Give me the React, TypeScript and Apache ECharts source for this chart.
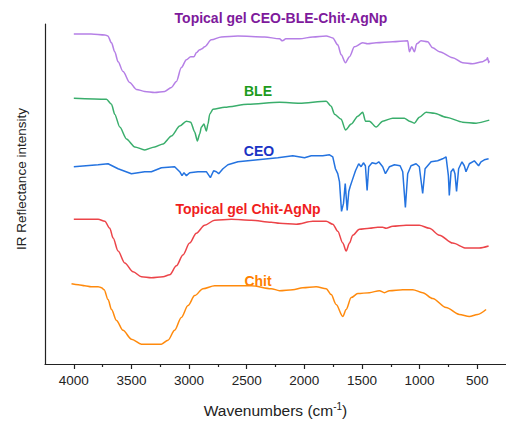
import React, { useEffect, useRef } from "react";
import * as echarts from "echarts";

// Wavenumber (cm-1) / offset IR reflectance intensity pairs
const gelCeoBleChitAgNp: number[][] = [
  [4000, 333], [3850, 333], [3730, 332], [3705, 331], [3673, 324], [3645, 315], [3616, 305],
  [3573, 295], [3515, 284], [3457, 277], [3385, 275], [3298, 274], [3211, 275],
  [3153, 279], [3110, 285], [3067, 299], [3023, 307], [2986, 310], [2957, 310],
  [2937, 314], [2908, 317], [2888, 318], [2865, 320], [2807, 327], [2720, 330],
  [2576, 331], [2345, 330], [2215, 328], [2190, 326], [2160, 328], [2041, 328], [1926, 330], [1810, 331],
  [1753, 329], [1710, 322], [1680, 312], [1643, 304], [1608, 310], [1565, 320],
  [1493, 324], [1450, 323], [1377, 324], [1233, 325], [1103, 326], [1088, 315],
  [1068, 320], [1045, 315], [1025, 323], [987, 326], [930, 325], [886, 319],
  [828, 315], [713, 309], [626, 304], [540, 303], [453, 305], [420, 307], [410, 309], [400, 304], [395, 306],
];

const ble: number[][] = [
  [4000, 268], [3717, 267], [3673, 262], [3645, 252], [3601, 239], [3543, 227],
  [3471, 219], [3385, 216], [3298, 219], [3226, 222], [3153, 230], [3081, 240],
  [3023, 245], [2986, 244], [2951, 234], [2928, 225], [2908, 232], [2893, 239],
  [2871, 242], [2850, 235], [2836, 242], [2821, 252], [2793, 257], [2691, 259],
  [2489, 262], [2215, 264], [2041, 263], [1810, 265], [1767, 260], [1738, 252],
  [1680, 247], [1643, 236], [1593, 242], [1536, 250], [1493, 254], [1470, 245],
  [1435, 245], [1377, 239], [1320, 245], [1233, 248], [1132, 248], [1088, 245],
  [1045, 243], [1002, 249], [943, 254], [871, 253], [770, 249], [626, 244],
  [510, 243], [395, 246],
];

const ceo: number[][] = [
  [4000, 199], [3789, 201], [3703, 202], [3616, 197], [3500, 192], [3385, 194],
  [3327, 194], [3240, 198], [3125, 199], [3081, 194], [3061, 190], [3044, 193],
  [3023, 190], [2995, 193], [2923, 194], [2850, 194], [2815, 188], [2787, 195],
  [2763, 194], [2743, 192], [2706, 197], [2663, 201], [2576, 204], [2403, 206],
  [2230, 208], [2100, 210], [1998, 208], [1940, 210], [1840, 210], [1781, 211],
  [1753, 209], [1730, 197], [1710, 192], [1695, 184], [1677, 154], [1660, 162],
  [1645, 182], [1628, 155], [1614, 174], [1602, 179], [1585, 185], [1556, 195],
  [1528, 202], [1507, 199], [1487, 203], [1470, 200], [1455, 175], [1441, 199],
  [1412, 203], [1377, 202], [1354, 204], [1320, 199], [1296, 192], [1261, 199],
  [1218, 201], [1169, 200], [1146, 194], [1123, 158], [1103, 192], [1074, 200],
  [1030, 202], [1002, 199], [973, 172], [952, 197], [900, 204], [843, 205],
  [800, 207], [770, 209], [750, 190], [742, 170], [727, 194], [707, 197],
  [693, 192], [679, 174], [661, 197], [632, 204], [612, 200], [597, 194],
  [568, 202], [525, 205], [488, 200], [467, 204], [438, 206], [401, 207],
];

const gelChitAgNp: number[][] = [
  [4000, 146], [3789, 146], [3731, 144], [3688, 137], [3659, 127], [3616, 114],
  [3558, 102], [3486, 93], [3413, 88], [3327, 87], [3226, 88], [3168, 90],
  [3110, 99], [3053, 110], [2995, 122], [2937, 132], [2865, 140], [2778, 145],
  [2633, 146], [2460, 145], [2287, 143], [2215, 142], [2070, 141], [1926, 144],
  [1810, 144], [1753, 141], [1710, 134], [1666, 122], [1637, 114], [1608, 122],
  [1580, 130], [1522, 136], [1435, 137], [1363, 138], [1320, 138], [1291, 137],
  [1233, 139], [1117, 140], [1002, 140], [915, 137], [828, 130], [713, 122],
  [597, 117], [482, 117], [401, 119],
];

const chit: number[][] = [
  [4020, 81], [3960, 80], [3905, 79], [3850, 78], [3789, 78], [3760, 77], [3737, 75], [3703, 65],
  [3673, 55], [3630, 44], [3573, 34], [3500, 25], [3413, 20], [3327, 20],
  [3240, 20], [3183, 24], [3125, 34], [3067, 47], [3009, 59], [2951, 69],
  [2879, 76], [2778, 79], [2633, 79], [2460, 79], [2287, 76], [2215, 74],
  [2100, 75], [2013, 77], [1897, 78], [1810, 76], [1767, 70], [1724, 60],
  [1666, 48], [1637, 55], [1593, 67], [1536, 71], [1435, 72], [1348, 74],
  [1305, 72], [1261, 74], [1146, 75], [1059, 75], [973, 72], [886, 66],
  [770, 57], [655, 50], [568, 48], [496, 50], [423, 55],
];

const majorTicks = [500, 1000, 1500, 2000, 2500, 3000, 3500, 4000];
const minorTicks = [750, 1250, 1750, 2250, 2750, 3250, 3750];

const seriesNames = [
  "Topical gel CEO-BLE-Chit-AgNp",
  "BLE",
  "CEO",
  "Topical gel Chit-AgNp",
  "Chit",
];
const seriesData = [gelCeoBleChitAgNp, ble, ceo, gelChitAgNp, chit];
const lineColors = ["#B57FE6", "#3AAE6C", "#2473E0", "#EC4449", "#FF8A0D"];
const labelColors = ["#7E1A9C", "#1C9B1C", "#1A33C4", "#F01E1E", "#FF8000"];
const smoothing = [0.3, 0.25, 0, 0.3, 0.3];

const FONT = '"Liberation Sans", Arial, Helvetica, sans-serif';

export default function App() {
  const ref = useRef<HTMLDivElement>(null);
  useEffect(() => {
    if (!ref.current) return;
    const chart = echarts.init(ref.current, undefined, { renderer: "svg" });
    const labelPos = [
      [281, 18],
      [258, 91],
      [259, 151],
      [248, 209],
      [258, 281],
    ];
    chart.setOption({
      animation: false,
      backgroundColor: "#ffffff",
      textStyle: { fontFamily: FONT },
      grid: { left: 45, right: 0, top: 24, bottom: 56 },
      xAxis: [
        {
          type: "value",
          inverse: true,
          min: 250,
          max: 4250,
          position: "bottom",
          name: "Wavenumbers (cm{sup|-1})",
          nameLocation: "middle",
          nameGap: 37,
          nameTextStyle: {
            fontFamily: FONT,
            fontSize: 15.5,
            color: "#222",
            rich: {
              sup: { fontSize: 10, verticalAlign: "top", padding: [0, 0, 8, 0], fontFamily: FONT, color: "#222" },
            },
          },
          axisLine: { show: true, lineStyle: { color: "#222", width: 1.2 } },
          axisTick: { show: true, customValues: majorTicks, length: 5, lineStyle: { color: "#222", width: 1.2 } },
          axisLabel: {
            customValues: majorTicks,
            margin: 9,
            fontSize: 13.5,
            color: "#222",
            fontFamily: FONT,
            formatter: (v: number) => String(v),
          },
          splitLine: { show: false },
        },
        {
          type: "value",
          inverse: true,
          min: 250,
          max: 4250,
          position: "bottom",
          axisLine: { show: false },
          axisTick: { show: true, customValues: minorTicks, length: 3, lineStyle: { color: "#222", width: 1.2 } },
          axisLabel: { show: false },
          splitLine: { show: false },
        },
      ],
      yAxis: {
        type: "value",
        min: 0,
        max: 343,
        axisLine: { show: true, lineStyle: { color: "#222", width: 1.2 } },
        axisTick: { show: false },
        axisLabel: { show: false },
        splitLine: { show: false },
      },
      series: seriesData.map((d, i) => ({
        name: seriesNames[i],
        type: "line",
        xAxisIndex: 0,
        data: d,
        showSymbol: false,
        symbol: "none",
        smooth: smoothing[i] || false,
        smoothMonotone: "x",
        lineStyle: { color: lineColors[i], width: 1.5 },
        z: 2,
      })),
      graphic: [
        ...seriesNames.map((n, i) => ({
          type: "text",
          x: labelPos[i][0],
          y: labelPos[i][1],
          style: {
            text: n,
            fill: labelColors[i],
            fontFamily: FONT,
            fontSize: 14,
            fontWeight: "bold",
            align: "center",
            verticalAlign: "middle",
          },
        })),
        {
          type: "text",
          x: 21,
          y: 179,
          rotation: Math.PI / 2,
          style: {
            text: "IR Reflectance intensity",
            fill: "#222",
            fontFamily: FONT,
            fontSize: 13.5,
            align: "center",
            verticalAlign: "middle",
          },
        },
      ],
    });
    return () => chart.dispose();
  }, []);
  return (
    <div
      ref={ref}
      style={{ position: "absolute", left: 0, top: 0, width: 506, height: 423 }}
    />
  );
}
